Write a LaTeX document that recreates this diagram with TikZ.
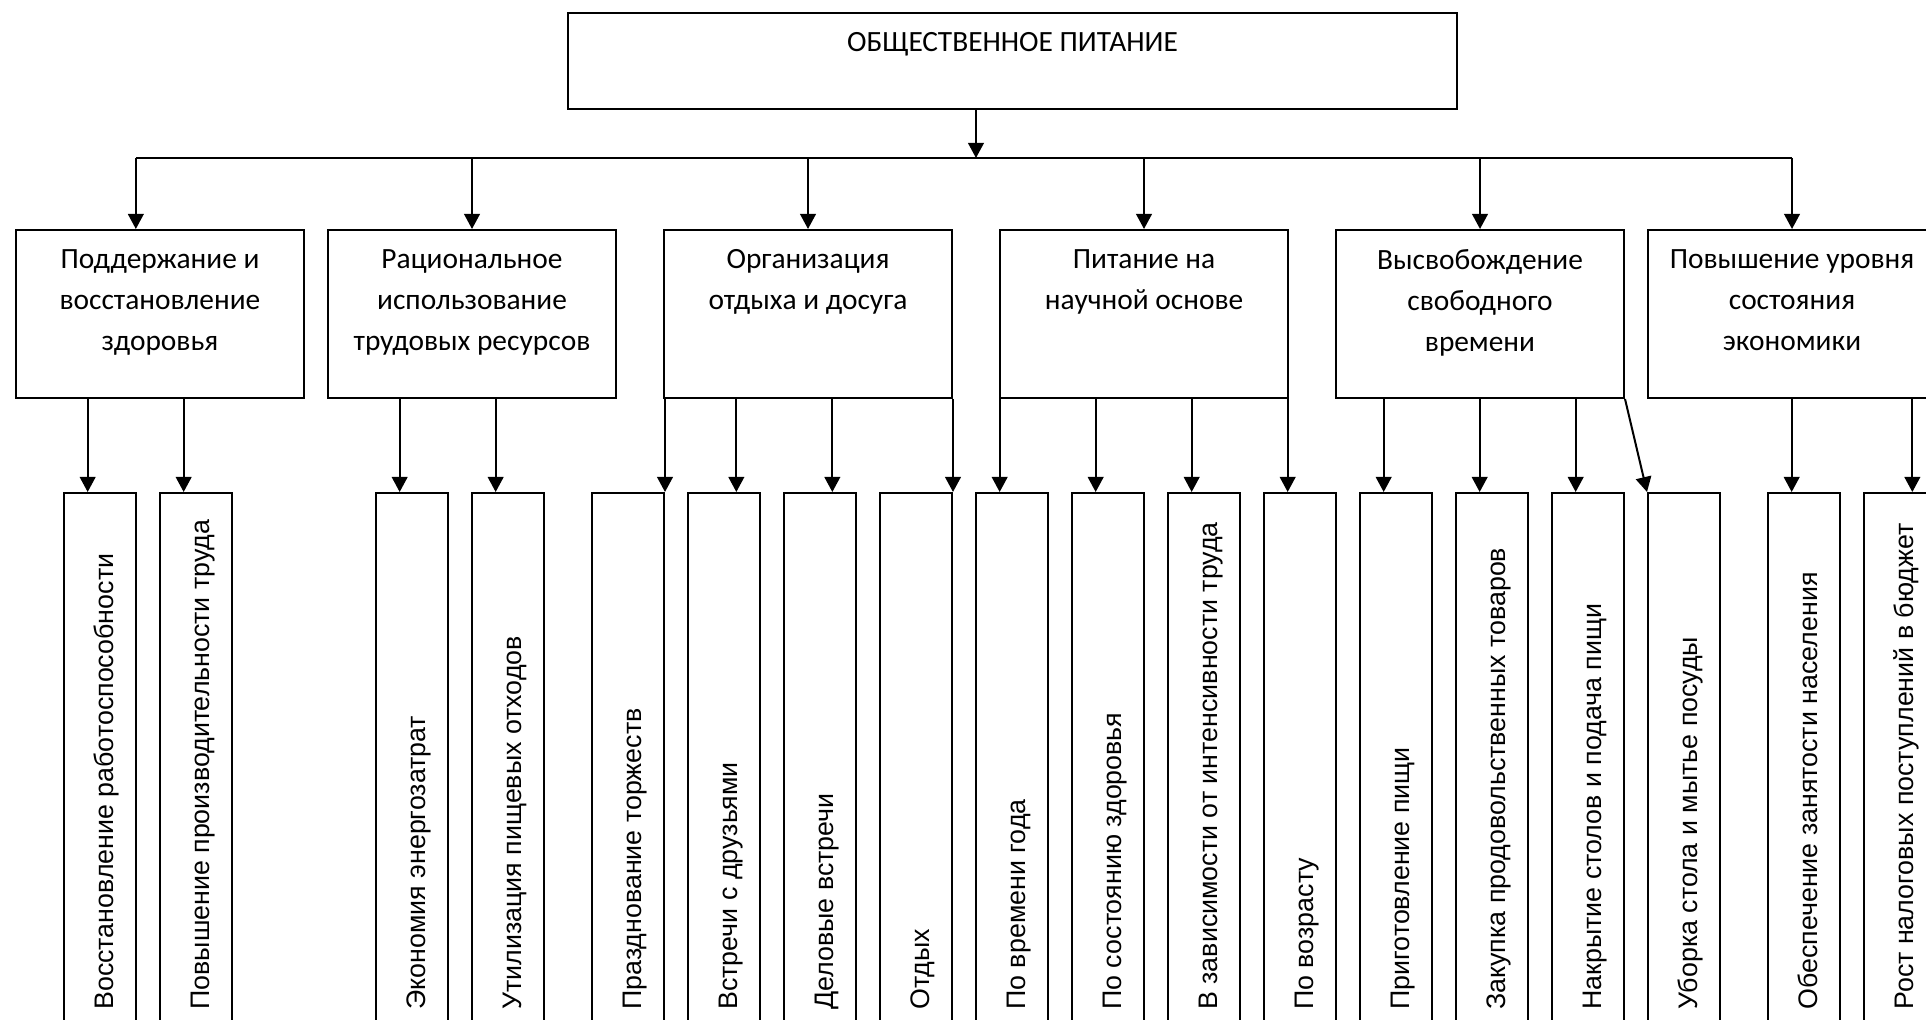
\documentclass[tikz,border=0pt]{standalone}
\usepackage{fontspec}
\setmainfont{Carlito}
\newfontfamily\itemfont{Liberation Sans}
\usetikzlibrary{calc, positioning}
\usetikzlibrary{arrows.meta}
\def\lw{1pt}
\tikzset{
    topbox/.style = {
        draw, rectangle, minimum width=444.5pt, minimum height=48pt, line width=\lw, inner sep=0pt
    },
    goalbox/.style = {
        draw, rectangle, minimum width=144pt, minimum height=84pt, line width=\lw, inner sep=0pt
    },
    goaltext/.style = {
        align=center, inner sep=0pt, font=\fontsize{14.7}{20.5}\selectfont
    },
    itembox/.style = {
        draw, rectangle, rotate=90, anchor=north east, minimum width=268pt, minimum height=36pt,
        inner sep=0pt, line width=\lw
    },
    itemtext/.style = {
        rotate=90, anchor=base west, inner sep=0pt, font=\itemfont\fontsize{13.4}{15}\selectfont
    },
    arr/.style = {-{Triangle[width=7.8pt,length=7.5pt]}, line width=\lw},
}
\newcommand\dropto[3]{
    \path ($(#2.north east)!#3!(#2.south east)$) coordinate (tip);
    \draw[arr] (#1.south -| tip) -- (tip);
}

\begin{document}
\begin{tikzpicture}[x=0.5pt, y=-0.5pt]
        \path[use as bounding box, fill=white] (0,0) rectangle (1926,1020);
        % Title
        \node[topbox, anchor=north west] (top) at (567,12) {};
        \node[goaltext, anchor=north] (top-t) at ([yshift=-10pt] top.north) {ОБЩЕСТВЕННОЕ ПИТАНИЕ};

        % Goals
        \foreach \n/\x/\t in {b1/15/{Поддержание и\\восстановление\\здоровья},
                              b2/327/{Рациональное\\использование\\трудовых ресурсов},
                              b3/663/{Организация\\отдыха и досуга},
                              b4/999/{Питание на\\научной основе},
                              b5/1335/{Высвобождение\\свободного\\времени},
                              b6/1647/{Повышение уровня\\состояния\\экономики}}{
            \node[goalbox, anchor=north west] (\n) at (\x,229) {};
            \node[goaltext, anchor=north] (\n-t) at ([yshift=-10pt] \n.north) {\t};
        }

        % Items
        \foreach \n/\x/\t in {v1/63/{Восстановление работоспособности},
                              v2/159/{Повышение производительности труда},
                              v3/375/{Экономия энергозатрат},
                              v4/471/{Утилизация пищевых отходов},
                              v5/591/{Празднование торжеств},
                              v6/687/{Встречи с друзьями},
                              v7/783/{Деловые встречи},
                              v8/879/{Отдых},
                              v9/975/{По времени года},
                              v10/1071/{По состоянию здоровья},
                              v11/1167/{В зависимости от интенсивности труда},
                              v12/1263/{По возрасту},
                              v13/1359/{Приготовление пищи},
                              v14/1455/{Закупка продовольственных товаров},
                              v15/1551/{Накрытие столов и подача пищи},
                              v16/1647/{Уборка стола и мытье посуды},
                              v17/1767/{Обеспечение занятости населения},
                              v18/1863/{Рост налоговых поступлений в бюджет}}{
            \node[itembox] (\n) at (\x,492) {};
            \node[itemtext] (\n-t) at ([xshift=6.5pt, yshift=10pt] \n.west) {\t};
        }

        % Title to goals
        \path ($(top.south west)!0.459!(top.south east)$) coordinate (trunk);
        \coordinate (bus) at ([yshift=-24pt] trunk);
        \draw[arr] (trunk) -- (bus);
        \path ($(b1.north west)!0.4167!(b1.north east)$) coordinate (b1in);
        \draw[line width=\lw] (b1in |- bus) -- (b6.north |- bus);
        \draw[arr] (b1in |- bus) -- (b1in);
        \foreach \n in {b2,b3,b4,b5,b6}{
            \draw[arr] (\n.north |- bus) -- (\n.north);
        }

        % Goals to items
        \dropto{b1}{v1}{1/3}
        \dropto{b1}{v2}{1/3}
        \dropto{b2}{v3}{1/3}
        \dropto{b2}{v4}{1/3}
        \dropto{b3}{v5}{1}
        \dropto{b3}{v6}{2/3}
        \dropto{b3}{v7}{2/3}
        \dropto{b3}{v8}{1}
        \foreach \v in {v9,v10,v11,v12}{
            \dropto{b4}{\v}{1/3}
        }
        \foreach \v in {v13,v14,v15}{
            \dropto{b5}{\v}{1/3}
        }
        \draw[arr] (b5.south east) -- (v16.north east);
        \dropto{b6}{v17}{1/3}
        \dropto{b6}{v18}{2/3}
\end{tikzpicture}
\end{document}
